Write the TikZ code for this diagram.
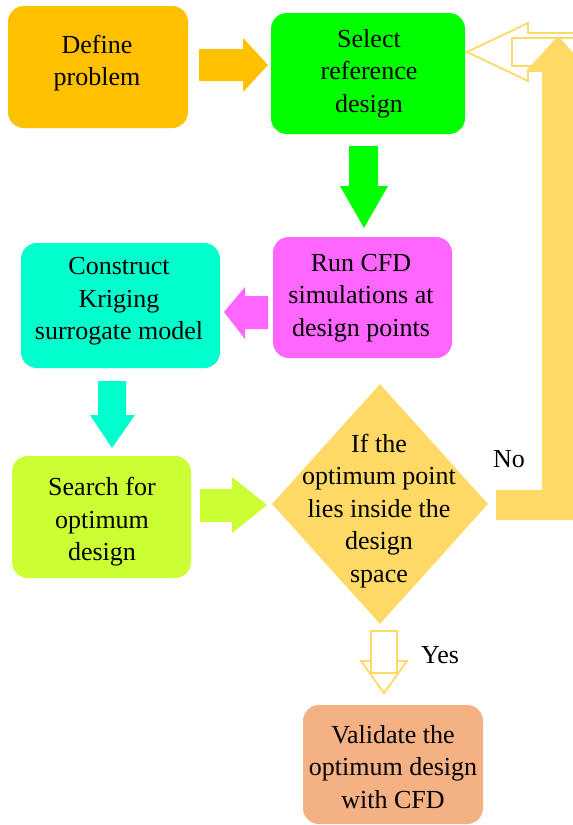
\documentclass[tikz,border=0pt]{standalone}
\usepackage{fontspec}
\setmainfont{Liberation Serif}
\usetikzlibrary{shapes.geometric}
\definecolor{cOrange}{HTML}{FFC000}
\definecolor{cGreen}{HTML}{00FF00}
\definecolor{cMagenta}{HTML}{FF66FF}
\definecolor{cCyan}{HTML}{00FFCC}
\definecolor{cLime}{HTML}{CCFF33}
\definecolor{cGold}{HTML}{FFD966}
\definecolor{cSalmon}{HTML}{F4B183}
\tikzset{
  box/.style={rectangle, rounded corners=16pt, inner sep=0pt},
  lbl/.style={inner sep=0pt, align=center, font=\fontsize{26}{32.5}\selectfont},
  hollow/.style={draw=cGold, line width=1.8pt, fill=white, line join=miter}
}
\begin{document}
\begin{tikzpicture}[x=1pt, y=-1pt]
\useasboundingbox (0,0) rectangle (573,825);
\clip (0,0) rectangle (573,825);

% boxes
\node[box, fill=cOrange, minimum width=180pt, minimum height=122pt] (def) at (98,67) {};
\node[lbl] (deft) at (97,63) {Define\\problem};
\node[box, fill=cGreen, minimum width=194pt, minimum height=121pt] (sel) at (368,73.5) {};
\node[lbl] (selt) at (369,73.5) {Select\\reference\\design};
\node[box, fill=cMagenta, minimum width=179pt, minimum height=121pt] (run) at (362.5,297.5) {};
\node[lbl] (runt) at (361,298) {Run CFD\\simulations at\\design points};
\node[box, fill=cCyan, minimum width=199pt, minimum height=125pt] (kri) at (120.5,305.5) {};
\node[lbl] (krit) at (119,301.5) {Construct\\Kriging\\surrogate model};
\node[box, fill=cLime, minimum width=179pt, minimum height=122pt] (sea) at (101.5,517) {};
\node[lbl] (seat) at (102,522) {Search for\\optimum\\design};
\node[box, fill=cSalmon, minimum width=180pt, minimum height=119pt] (val) at (393,764.5) {};
\node[lbl] (valt) at (393,767) {Validate the\\optimum design\\with CFD};

% decision
\node[diamond, fill=cGold, minimum width=216pt, minimum height=240pt, inner sep=0pt] (dec) at (380,504) {};
\node[lbl] (dectxt) at (379,511) {If the\\optimum point\\lies inside the\\design\\space};

% block arrows
\fill[cOrange] (199,49) -- (243,49) -- (243,38) -- (268,65) -- (243,92) -- (243,81) -- (199,81) -- cycle;
\fill[cGreen] (349,146) -- (378,146) -- (378,186) -- (388,186) -- (364,228) -- (340,186) -- (349,186) -- cycle;
\fill[cMagenta] (268,296) -- (268,329) -- (245,329) -- (245,339) -- (224,312) -- (245,287) -- (245,296) -- cycle;
\fill[cCyan] (98,381) -- (126,381) -- (126,415) -- (135,415) -- (112,448) -- (90,415) -- (98,415) -- cycle;
\fill[cLime] (200,489) -- (232,489) -- (232,477) -- (267,505) -- (232,533) -- (232,522) -- (200,522) -- cycle;

% hollow arrow into "Select reference design"
\draw[hollow] (590,33) -- (528,33) -- (528,23) -- (467,52) -- (528,81) -- (528,71) -- (590,71);
\draw[hollow] (590,38) -- (512,38) -- (512,66) -- (590,66);

% "No" feedback arrow
\fill[cGold] (496,490) -- (542,490) -- (542,70) -- (527,70) -- (558,36) -- (589,70) -- (573,70) -- (573,520) -- (496,520) -- cycle;
\node[lbl] (no) at (509,459) {No};

% "Yes" hollow arrow
\draw[hollow] (361,661) -- (407,661) -- (384,693) -- cycle;
\draw[hollow] (371,631) rectangle (397,673);
\node[lbl] (yes) at (440,655) {Yes};
\end{tikzpicture}
\end{document}
